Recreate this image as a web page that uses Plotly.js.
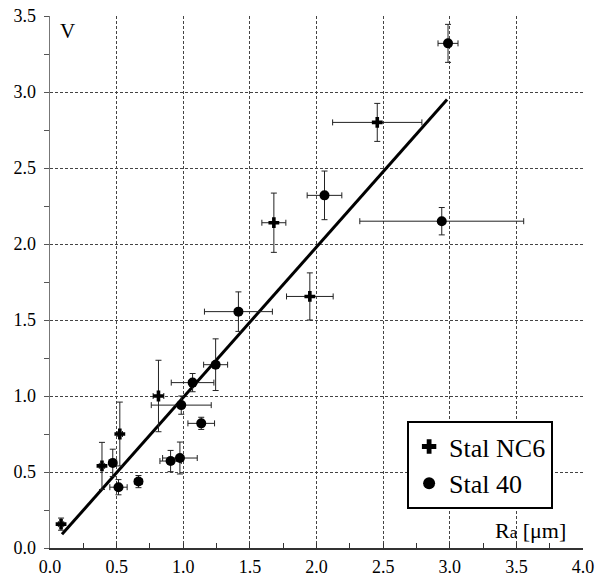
<!DOCTYPE html>
<html>
<head>
<meta charset="utf-8">
<script src="https://cdn.plot.ly/plotly-3.0.1.min.js"></script>
<style>html,body{margin:0;padding:0;background:#fff;}#chart{width:602px;height:579px;}</style>
</head>
<body>
<div id="chart"></div>
<script>
// Stal NC6 (crosses)
const nc6X   = [0.083, 0.39, 0.524, 0.814, 1.68, 1.95, 2.456];
const nc6Y   = [0.157, 0.54, 0.75, 1.00, 2.14, 1.655, 2.80];
const nc6Ey  = [0.04, 0.155, 0.21, 0.235, 0.195, 0.155, 0.125];
const nc6Ex  = [0.02, 0.02, 0.02, 0.04, 0.09, 0.175, 0.335];
// Stal 40 (circles)
const s40X   = [0.471, 0.514, 0.664, 0.905, 0.975, 0.985, 1.07, 1.135, 1.243, 1.414, 2.06, 2.987, 2.94];
const s40Y   = [0.56, 0.40, 0.437, 0.572, 0.592, 0.94, 1.088, 0.82, 1.206, 1.555, 2.32, 3.32, 2.15];
const s40Ey  = [0.09, 0.05, 0.04, 0.07, 0.105, 0.06, 0.06, 0.04, 0.17, 0.13, 0.16, 0.125, 0.09];
const s40Ex  = [0.02, 0.065, 0.03, 0.08, 0.13, 0.225, 0.16, 0.1, 0.09, 0.255, 0.13, 0.075, 0.615];
// Fit line
const fitX = [0.09, 2.98];
const fitY = [0.09, 2.95];
// Tick labels
const tickVals = [0.0, 0.5, 1.0, 1.5, 2.0, 2.5, 3.0, 3.5, 4.0];
const xTickText = ["0.0","0.5","1.0","1.5","2.0","2.5","3.0","3.5","4.0"];
const yTickVals = [0.0, 0.5, 1.0, 1.5, 2.0, 2.5, 3.0, 3.5];
const yTickText = ["0.0","0.5","1.0","1.5","2.0","2.5","3.0","3.5"];
const names = ["Stal NC6", "Stal 40"];

const serif = "Liberation Serif, Times New Roman, serif";
const errStyle = {color: "#222", thickness: 1, width: 3};

const traces = [
  {x: fitX, y: fitY, mode: "lines", line: {color: "#000", width: 3}, showlegend: false, hoverinfo: "skip"},
  {x: nc6X, y: nc6Y, mode: "markers", name: names[0], type: "scatter",
   marker: {symbol: "cross", size: 9, color: "#000"},
   error_y: Object.assign({type: "data", array: nc6Ey, visible: true}, errStyle),
   error_x: Object.assign({type: "data", array: nc6Ex, visible: true}, errStyle)},
  {x: s40X, y: s40Y, mode: "markers", name: names[1], type: "scatter",
   marker: {symbol: "circle", size: 10, color: "#000"},
   error_y: Object.assign({type: "data", array: s40Ey, visible: true}, errStyle),
   error_x: Object.assign({type: "data", array: s40Ex, visible: true}, errStyle)}
];

const layout = {
  width: 602, height: 579,
  margin: {l: 50, r: 19, t: 16, b: 31},
  paper_bgcolor: "#fff", plot_bgcolor: "#fff",
  font: {family: serif, color: "#000", size: 18},
  xaxis: {
    range: [0, 4], tickvals: tickVals, ticktext: xTickText,
    showgrid: true, gridcolor: "#444", griddash: "3px,2px", gridwidth: 1,
    zeroline: false, showline: true, linecolor: "#333", linewidth: 1.5,
    ticks: "inside", ticklen: 5, tickcolor: "#333",
    minor: {dtick: 0.25, tick0: 0, ticks: "inside", ticklen: 5, tickcolor: "#333", showgrid: false},
    tickfont: {family: serif, size: 18}, ticklabelstandoff: 2
  },
  yaxis: {
    range: [0, 3.5], tickvals: yTickVals, ticktext: yTickText,
    showgrid: true, gridcolor: "#444", griddash: "3px,2px", gridwidth: 1,
    zeroline: false, showline: true, linecolor: "#777", linewidth: 1.5,
    ticks: "outside", ticklen: 5, tickcolor: "#555",
    minor: {dtick: 0.25, tick0: 0, ticks: "outside", ticklen: 5, tickcolor: "#555", showgrid: false},
    tickfont: {family: serif, size: 18}, ticklabelstandoff: 4
  },
  legend: {
    x: 0.67, y: 0.2385, xanchor: "left", yanchor: "top",
    bgcolor: "#fff", bordercolor: "#000", borderwidth: 2,
    font: {family: serif, size: 26, color: "#000"},
    itemsizing: "constant", tracegroupgap: 0
  },
  annotations: [
    {text: "V", xref: "paper", yref: "paper", x: 0.032, y: 0.972, xanchor: "center", yanchor: "middle",
     showarrow: false, font: {family: serif, size: 21, color: "#000"}},
    {text: "R<span style='font-size:17px'>a</span> [μm]", xref: "paper", yref: "paper", x: 0.972, y: 0.032,
     xanchor: "right", yanchor: "middle", showarrow: false, font: {family: serif, size: 22, color: "#000"}}
  ]
};

Plotly.newPlot("chart", traces, layout, {displayModeBar: false, staticPlot: true});
</script>
</body>
</html>
